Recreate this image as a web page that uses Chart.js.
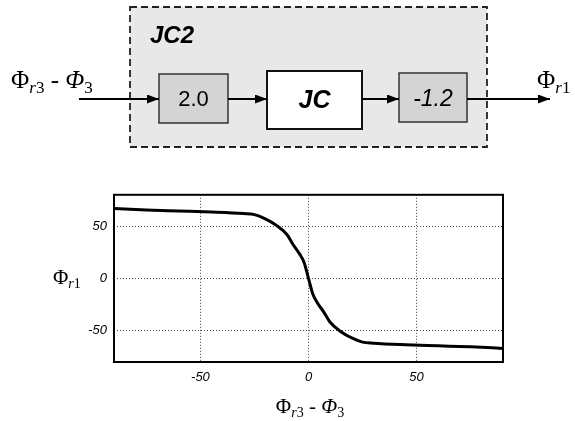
<!DOCTYPE html>
<html>
<head>
<meta charset="utf-8">
<script src="https://cdn.jsdelivr.net/npm/chart.js@4/dist/chart.umd.min.js"></script>
<style>
  html, body { margin: 0; padding: 0; background: #fff; }
  #wrap { position: relative; width: 575px; height: 421px; overflow: hidden; }
  #box { position: absolute; left: 50px; top: 180px; width: 460px; height: 210px; }
  #overlay { position: absolute; left: 0; top: 0; pointer-events: none; }
  .serif { font-family: "Liberation Serif", "DejaVu Serif", serif; }
  .sans { font-family: "Liberation Sans", Arial, sans-serif; }
</style>
</head>
<body>
<div id="wrap">
  <div id="box"><canvas id="curve"></canvas></div>
  <svg id="overlay" width="575" height="421">
    <defs>
      <marker id="ah" markerWidth="12" markerHeight="9" refX="12" refY="4.5" orient="auto" markerUnits="userSpaceOnUse">
        <path d="M0,0 L12,4.5 L0,9 z" fill="#000"/>
      </marker>
    </defs>
    <!-- JC2 block -->
    <rect x="130" y="7" width="357" height="140" fill="#e8e8e8" stroke="#222" stroke-width="1.8" stroke-dasharray="7,4"/>
    <text x="150" y="43" class="sans" font-size="24" font-weight="bold" font-style="italic">JC2</text>

    <rect x="159" y="74" width="69" height="49" fill="#d4d4d4" stroke="#333" stroke-width="1.5"/>
    <text x="193.5" y="106" class="sans" font-size="22" text-anchor="middle">2.0</text>

    <rect x="267" y="71" width="95" height="58" fill="#fff" stroke="#111" stroke-width="2"/>
    <text x="314.5" y="108" class="sans" font-size="25" font-weight="bold" font-style="italic" text-anchor="middle">JC</text>

    <rect x="399" y="73" width="68" height="49" fill="#d4d4d4" stroke="#333" stroke-width="1.5"/>
    <text x="433" y="106" class="sans" font-size="23" font-style="italic" text-anchor="middle">-1.2</text>

    <line x1="79" y1="99" x2="159" y2="99" stroke="#000" stroke-width="2" marker-end="url(#ah)"/>
    <line x1="228" y1="99" x2="267" y2="99" stroke="#000" stroke-width="2" marker-end="url(#ah)"/>
    <line x1="362" y1="99" x2="399" y2="99" stroke="#000" stroke-width="2" marker-end="url(#ah)"/>
    <line x1="467" y1="99" x2="550" y2="99" stroke="#000" stroke-width="2" marker-end="url(#ah)"/>

    <text x="11" y="88" class="serif" font-size="25">Φ<tspan font-style="italic" font-size="17" dy="5">r</tspan><tspan font-size="17">3</tspan><tspan dy="-5"> - </tspan><tspan font-style="italic">Φ</tspan><tspan font-size="17" dy="5">3</tspan></text>
    <text x="537" y="88" class="serif" font-size="25">Φ<tspan font-style="italic" font-size="17" dy="5">r</tspan><tspan font-size="17">1</tspan></text>

    <!-- axis titles -->
    <text x="53" y="284" class="serif" font-size="21">Φ<tspan font-style="italic" font-size="14" dy="4">r</tspan><tspan font-size="14">1</tspan></text>
    <text x="310" y="413" class="serif" font-size="21" text-anchor="middle">Φ<tspan font-style="italic" font-size="14" dy="4">r</tspan><tspan font-size="14">3</tspan><tspan dy="-4"> - </tspan><tspan font-style="italic">Φ</tspan><tspan font-size="14" dy="4">3</tspan></text>
  </svg>
</div>
<script>
// input phase difference vs. output phase
const xValues = [-90, -75, -60, -45, -30, -25, -20, -15, -10, -7, -4, -2, 0, 2, 4, 7, 10, 15, 20, 25, 30, 45, 60, 75, 90];
const yValues = [67, 65.5, 64.5, 63.5, 62, 61, 57, 51, 42, 32, 23, 15, 0, -15, -23, -32, -42, -51, -57, -61, -62, -63.5, -64.5, -65.5, -67];
const xTicks = [-50, 0, 50];
const yTicks = [-50, 0, 50];

const points = xValues.map((x, i) => ({ x: x, y: yValues[i] }));

const frame = {
    id: 'frame',
    afterDraw(chart) {
        const a = chart.chartArea;
        const c = chart.ctx;
        c.save();
        c.strokeStyle = '#000';
        c.lineWidth = 2;
        c.strokeRect(a.left, a.top, a.right - a.left, a.bottom - a.top);
        c.restore();
    }
};

const tickFont = { family: '"Liberation Sans", Arial, sans-serif', size: 13, style: 'italic' };
const gridStyle = { color: '#444', lineWidth: 1, drawTicks: false };

new Chart(document.getElementById('curve'), {
    type: 'scatter',
    data: {
        datasets: [{
            data: points,
            showLine: true,
            borderColor: '#000',
            borderWidth: 3,
            pointRadius: 0,
            cubicInterpolationMode: 'monotone'
        }]
    },
    options: {
        responsive: true,
        maintainAspectRatio: false,
        animation: false,
        layout: { padding: { top: 4, right: 7, left: 0, bottom: 0 } },
        plugins: { legend: { display: false }, tooltip: { enabled: false } },
        scales: {
            x: {
                type: 'linear',
                min: -90,
                max: 90,
                afterBuildTicks: s => { s.ticks = xTicks.map(v => ({ value: v })); },
                afterFit: s => { s.height = 28; },
                grid: gridStyle,
                border: { display: false, dash: [1, 2] },
                ticks: { color: '#000', font: tickFont, padding: 8 }
            },
            y: {
                type: 'linear',
                min: -80,
                max: 80,
                afterBuildTicks: s => { s.ticks = yTicks.map(v => ({ value: v })); },
                afterFit: s => { s.width = 64; },
                grid: gridStyle,
                border: { display: false, dash: [1, 2] },
                ticks: { color: '#000', font: tickFont, padding: 7 }
            }
        }
    },
    plugins: [frame]
});
</script>
</body>
</html>
